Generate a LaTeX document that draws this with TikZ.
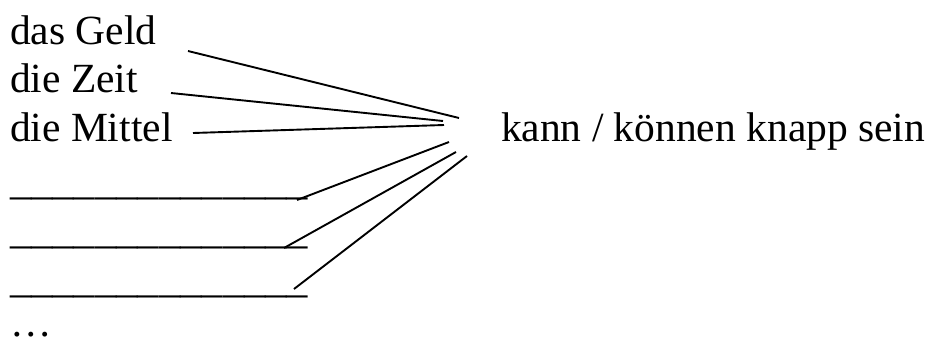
\documentclass[tikz,border=0pt]{standalone}
\usepackage{fontspec}
\setmainfont{Liberation Serif}
\begin{document}
\begin{tikzpicture}[x=1pt,y=-1pt,
  word/.style={anchor=base west,inner sep=0pt,outer sep=0pt,font=\fontsize{41.5}{48}\selectfont},
  blank/.style={word,font=\fontsize{42.6}{48}\selectfont},
  link/.style={line width=1.9pt,black}]
\useasboundingbox (0,0) rectangle (940,338);
\node[word] (geld) at (10,44) {das Geld};
\node[word] (zeit) at (10,92) {die Zeit};
\node[word] (mittel) at (10,141) {die Mittel};
\node[blank] (b1) at (10,194) {\_\_\_\_\_\_\_\_\_\_\_\_\_\_};
\node[blank] (b2) at (10,243) {\_\_\_\_\_\_\_\_\_\_\_\_\_\_};
\node[blank] (b3) at (10,292) {\_\_\_\_\_\_\_\_\_\_\_\_\_\_};
\node[word] (dots) at (10,336) {…};
\node[word] (knapp) at (501,141) {kann / können knapp sein};
% connector ends
\coordinate (s1) at (188,51);  \coordinate (e1) at (459,118);
\coordinate (s2) at (171,93);  \coordinate (e2) at (443,121);
\coordinate (s3) at (193,133); \coordinate (e3) at (444,125);
\coordinate (s4) at (297,200); \coordinate (e4) at (449,142);
\coordinate (s5) at (284,248); \coordinate (e5) at (456,152);
\coordinate (s6) at (294,289); \coordinate (e6) at (467,156);
\draw[link] (s1) -- (e1);
\draw[link] (s2) -- (e2);
\draw[link] (s3) -- (e3);
\draw[link] (s4) -- (e4);
\draw[link] (s5) -- (e5);
\draw[link] (s6) -- (e6);
\end{tikzpicture}
\end{document}
